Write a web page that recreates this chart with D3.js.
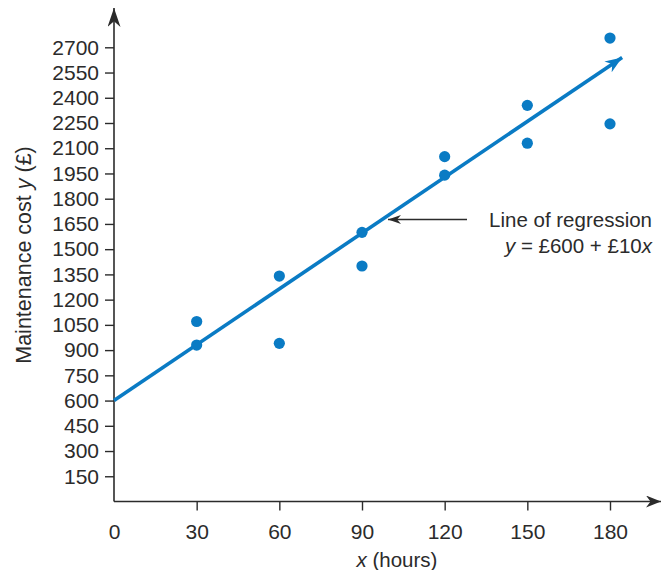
<!DOCTYPE html>
<html>
<head>
<meta charset="utf-8">
<script src="https://cdn.jsdelivr.net/npm/d3@7"></script>
<style>
  body { margin: 0; background: #fff; }
  svg { display: block; font-family: "Liberation Sans", Arial, sans-serif; }
</style>
</head>
<body>
<script>
// data
const hours = [30, 30, 60, 60, 90, 90, 120, 120, 150, 150, 180, 180];
const costs = [1070, 930, 1340, 940, 1600, 1400, 2050, 1940, 2355, 2130, 2755, 2245];
const yTicks = [150, 300, 450, 600, 750, 900, 1050, 1200, 1350, 1500, 1650, 1800, 1950, 2100, 2250, 2400, 2550, 2700];
const xTicks = [0, 30, 60, 90, 120, 150, 180];
// regression line as drawn: starts at 600, ends in an arrow past x = 180
const lineX = [0, 184.4];
const lineY = [600, 2640];

const width = 662, height = 570;
const blue = "#0a7bc4", ink = "#2b2b2b";

const svg = d3.select("body").append("svg")
  .attr("width", width)
  .attr("height", height);

const x = d3.scaleLinear().domain([0, 180]).range([114, 610]);
const y = d3.scaleLinear().domain([0, 2700]).range([501.5, 47.3]);

// arrow heads
const defs = svg.append("defs");
function head(id, len, half, color) {
  defs.append("marker")
    .attr("id", id)
    .attr("markerUnits", "userSpaceOnUse")
    .attr("viewBox", `${-len} ${-half} ${len} ${half * 2}`)
    .attr("markerWidth", len).attr("markerHeight", half * 2)
    .attr("refX", 0).attr("refY", 0)
    .attr("orient", "auto")
    .append("path")
    .attr("d", `M0,0L${-len},${-half}L${-len * 0.7},0L${-len},${half}Z`)
    .attr("fill", color);
}
head("ax", 19, 6.5, ink);
head("axx", 15, 6, ink);
head("reg", 17, 6.5, blue);
head("note", 13, 4.5, ink);

// axis lines with arrows
svg.append("line")
  .attr("x1", x(0)).attr("y1", y(0)).attr("x2", x(0)).attr("y2", 8)
  .attr("stroke", ink).attr("stroke-width", 1.6)
  .attr("marker-end", "url(#ax)");
svg.append("line")
  .attr("x1", x(0)).attr("y1", y(0)).attr("x2", 661).attr("y2", y(0))
  .attr("stroke", ink).attr("stroke-width", 1.6)
  .attr("marker-end", "url(#axx)");

// y axis ticks
const gy = svg.append("g")
  .attr("transform", `translate(${x(0)},0)`)
  .call(d3.axisLeft(y).tickValues(yTicks).tickFormat(d3.format("d")).tickSize(9).tickPadding(6));
gy.select(".domain").remove();
gy.selectAll("line").attr("stroke", ink).attr("stroke-width", 1.4);
gy.selectAll("text").attr("font-size", 21).attr("font-family", "Liberation Sans, Arial, sans-serif").attr("fill", ink);

// x axis ticks
const gx = svg.append("g")
  .attr("transform", `translate(0,${y(0)})`)
  .call(d3.axisBottom(x).tickValues(xTicks).tickFormat(d3.format("d")).tickSize(9).tickPadding(14));
gx.select(".domain").remove();
gx.selectAll("line").attr("stroke", ink).attr("stroke-width", 1.4);
gx.selectAll(".tick").filter(d => d === 0).select("line").remove();
gx.selectAll("text").attr("font-size", 21).attr("font-family", "Liberation Sans, Arial, sans-serif").attr("fill", ink);

// axis titles
svg.append("text")
  .attr("x", 397).attr("y", 567)
  .attr("text-anchor", "middle")
  .attr("font-size", 20.5).attr("fill", ink)
  .html('<tspan font-style="italic">x</tspan> (hours)');

svg.append("text")
  .attr("transform", "translate(31,255) rotate(-90)")
  .attr("text-anchor", "middle")
  .attr("font-size", 21.5).attr("fill", ink)
  .html('Maintenance cost <tspan font-style="italic">y</tspan> (£)');

// regression line
svg.append("line")
  .attr("x1", x(lineX[0])).attr("y1", y(lineY[0]))
  .attr("x2", x(lineX[1])).attr("y2", y(lineY[1]))
  .attr("stroke", blue).attr("stroke-width", 3.6)
  .attr("marker-end", "url(#reg)");

// points
svg.append("g")
  .selectAll("circle")
  .data(hours.map((h, i) => [h, costs[i]]))
  .join("circle")
  .attr("cx", d => x(d[0]))
  .attr("cy", d => y(d[1]))
  .attr("r", 5.6)
  .attr("fill", blue);

// annotation
svg.append("line")
  .attr("x1", 467).attr("y1", 219.5).attr("x2", 388).attr("y2", 219.5)
  .attr("stroke", ink).attr("stroke-width", 1.3)
  .attr("marker-end", "url(#note)");
svg.append("text")
  .attr("x", 652).attr("y", 227)
  .attr("text-anchor", "end")
  .attr("font-size", 20.5).attr("fill", ink)
  .text("Line of regression");
svg.append("text")
  .attr("x", 652).attr("y", 253)
  .attr("text-anchor", "end")
  .attr("font-size", 20.5).attr("fill", ink)
  .html('<tspan font-style="italic">y</tspan> = £600 + £10<tspan font-style="italic">x</tspan>');
</script>
</body>
</html>
